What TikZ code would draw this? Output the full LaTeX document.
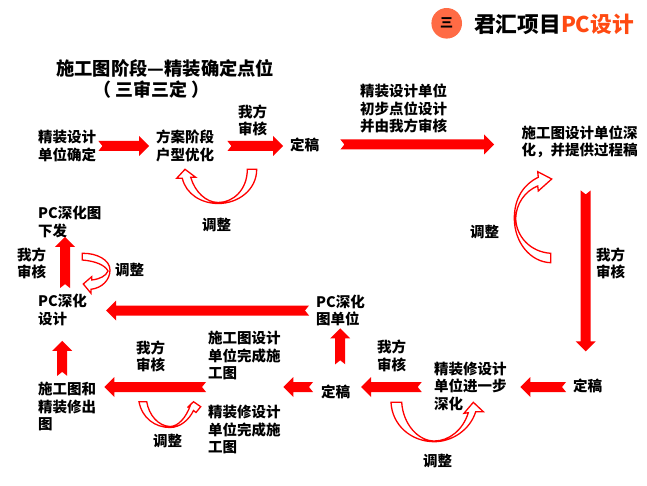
\documentclass[tikz,border=0pt]{standalone}
\usepackage{fontspec}
\setmainfont{Noto Sans CJK SC}
\usetikzlibrary{calc}
\definecolor{logocirc}{HTML}{FF6B45}
\definecolor{logotxt}{HTML}{FF4A12}
\tikzset{
    %Define style for texts
    lbl/.style={
           anchor=west,
           inner sep=0pt,
           align=left,
           font=\bfseries\fontsize{14.5}{17.5}\selectfont},
    % Define block arrow style
    blockarrow/.style={
           fill=red,
           to path={
             ($(\tikztostart)!5pt!90:(\tikztotarget)$)
             -- ($(\tikztotarget)!10pt!(\tikztostart)!5pt!-90:(\tikztostart)$)
             -- ($(\tikztotarget)!10pt!(\tikztostart)!10pt!-90:(\tikztostart)$)
             -- (\tikztotarget)
             -- ($(\tikztotarget)!10pt!(\tikztostart)!10pt!90:(\tikztostart)$)
             -- ($(\tikztotarget)!10pt!(\tikztostart)!5pt!90:(\tikztostart)$)
             -- ($(\tikztostart)!5pt!-90:(\tikztotarget)$)
             -- ($(\tikztostart)!4pt!(\tikztotarget)$)
             -- cycle}},
    % Define hollow curved arrow style
    hollow/.style={
           draw=red,
           fill=white,
           line width=1.3pt,
           line join=miter}
}
\begin{document}
\begin{tikzpicture}[x=1pt,y=-1pt]
      \useasboundingbox (0,0) rectangle (647,486);

      % header
      \node[circle, fill=logocirc, minimum size=30.6pt, inner sep=0pt,
            font=\bfseries\fontsize{13}{13}\selectfont] (logo) at (446.7,23.3) {三};
      \node[lbl, font=\bfseries\fontsize{21.7}{24}\selectfont] (brand) at (474,24)
            {君汇项目\textcolor{logotxt}{PC设计}};

      % title
      \node[lbl, font=\bfseries\fontsize{18.3}{22}\selectfont] (title) at (56,68) {施工图阶段—精装确定点位};
      \node[lbl, font=\bfseries\fontsize{18}{22}\selectfont] (subtitle) at (93,90) {（\kern4pt 三审三定\kern4pt ）};

      % top row
      \node[lbl] (jzsj) at (38,146) {精装设计\\单位确定};
      \node[lbl] (fajd) at (156,146) {方案阶段\\户型优化};
      \node[lbl] (wfsh1) at (238,120.5) {我方\\审核};
      \node[lbl] (dg1) at (290,144.5) {定稿};
      \node[lbl] (tz1) at (202,225) {调整};
      \node[lbl] (jzdw) at (360,108.5) {精装设计单位\\初步点位设计\\并由我方审核};
      \node[lbl] (sgt) at (521.5,142) {施工图设计单位深\\化，并提供过程稿};

      % right side
      \node[lbl] (tz2) at (470,232) {调整};
      \node[lbl] (wfsh2) at (596,263.5) {我方\\审核};
      \node[lbl] (dg2) at (573,386) {定稿};

      % bottom row
      \node[lbl] (jzx) at (434,386) {精装修设计\\单位进一步\\深化};
      \node[lbl] (wfsh3) at (377,356) {我方\\审核};
      \node[lbl] (tz3) at (423,461) {调整};
      \node[lbl] (dg3) at (321,391.5) {定稿};
      \node[lbl] (pcst) at (316,310.5) {PC深化\\图单位};
      \node[lbl] (sgw) at (208,355.5) {施工图设计\\单位完成施\\工图};
      \node[lbl] (jzw) at (208,429.5) {精装修设计\\单位完成施\\工图};
      \node[lbl] (wfsh4) at (136,356.5) {我方\\审核};
      \node[lbl] (tz4) at (153,441) {调整};
      \node[lbl] (sgh) at (38,406.5) {施工图和\\精装修出\\图};

      % left side
      \node[lbl] (pcsj) at (38,310) {PC深化\\设计};
      \node[lbl] (pcx) at (38,222) {PC深化图\\下发};
      \node[lbl] (wfsh5) at (17,263.5) {我方\\审核};
      \node[lbl] (tz5) at (115,270) {调整};

      % block arrows
      \path[blockarrow] ([xshift=2pt]jzsj.east) to ([xshift=-7pt]fajd.west);
      \path[blockarrow] ([xshift=13pt]fajd.east) to ([xshift=-7pt]dg1.west |- fajd.east);
      \path[blockarrow] ([xshift=21pt]dg1.east) to ([xshift=-27.5pt]sgt.west |- dg1.east);
      \path[blockarrow] ([xshift=6pt,yshift=-32pt]sgt.south) to ([xshift=6pt,yshift=27.5pt]sgt.south |- dg2.north);
      \path[blockarrow] ([xshift=-7pt,yshift=-1pt]dg2.west) to ([xshift=13.5pt,yshift=-1pt]jzx.east);
      \path[blockarrow] ([xshift=-12.3pt,yshift=-1pt]jzx.west) to ([xshift=10.7pt,yshift=-1pt]dg3.east |- jzx.west);
      \path[blockarrow] ([xshift=4.5pt,yshift=20pt]dg3.north) to ([xshift=4.5pt,yshift=-2pt]dg3.north |- pcst.south);
      \path[blockarrow] ([xshift=-8pt,yshift=-1pt]dg3.west |- jzx.west) to ([xshift=2.5pt,yshift=-1pt]sgw.east |- jzx.west);
      \path[blockarrow] ([xshift=-2pt,yshift=-1pt]sgw.west |- jzx.west) to ([xshift=8pt,yshift=-1pt]sgh.east |- jzx.west);
      \path[blockarrow] ([xshift=-5pt,yshift=6pt]sgh.north) to ([xshift=-5pt,yshift=-15pt]sgh.north |- pcsj.south);
      \path[blockarrow] ([xshift=-7pt]pcst.west) to ([xshift=19pt]pcsj.east |- pcst.west);
      \path[blockarrow] ([xshift=2.5pt,yshift=6pt]pcsj.north) to ([xshift=2.5pt,yshift=1pt]pcsj.north |- pcx.south);

      % hollow curved arrows
      \draw[hollow] (247.3,169.3) -- (256.7,169.3) .. controls (256.7,190) and (238,203.5) .. (218.3,203.5)
        .. controls (201,203.5) and (186,194) .. (182.3,178.3) -- (176.7,178.3) -- (185,169.3) -- (195.7,177.3) -- (190.7,177.3)
        .. controls (195,192) and (206,202.5) .. (218.3,202.5) .. controls (233,202.5) and (247.3,190) .. (247.3,169.3) -- cycle;
      \draw[hollow] (550.7,253.3) -- (550.7,262.7) .. controls (530,262) and (514.3,242) .. (514.3,218.3)
        .. controls (514.3,198) and (524,184) .. (538.3,177.3) -- (537.7,171.7) -- (551.7,179) -- (538.3,191) -- (537.7,186)
        .. controls (525,191) and (516,204) .. (515.7,218.3) .. controls (516,236) and (530,252) .. (550.7,253.3) -- cycle;
      \draw[hollow] (82.3,253.3) -- (82.3,260) .. controls (95,261) and (105,265) .. (108,271)
        .. controls (106,276) and (100,279) .. (91.7,280) -- (91.7,276.7) -- (83.3,284) -- (91,293.3) -- (91,289.3)
        .. controls (102,288) and (110,280) .. (110,270) .. controls (110,260) and (97,253) .. (82.3,253.3) -- cycle;
      \draw[hollow] (139,401.7) -- (146.7,401.7) .. controls (149,415) and (158,426) .. (170,426.5)
        .. controls (178,426.5) and (186,418) .. (190.5,405) -- (187.5,407.5) -- (193.5,401.7) -- (200.7,406.7) -- (196,412.5) -- (193.5,410.5)
        .. controls (189,420) and (180,427.5) .. (170,427.5) .. controls (155,427.5) and (142,418) .. (139,401.7) -- cycle;
      \draw[hollow] (391,402.3) -- (401.7,402.3) .. controls (403,424) and (418,441) .. (434.3,441)
        .. controls (449,441) and (463,430) .. (468.3,412.7) -- (464,413.3) -- (473.3,402.3) -- (483.3,411.7) -- (475.7,411.7)
        .. controls (470,430) and (452,441.7) .. (434.3,441.7) .. controls (411,441.7) and (392,425) .. (391,402.3) -- cycle;
  \end{tikzpicture}
\end{document}
